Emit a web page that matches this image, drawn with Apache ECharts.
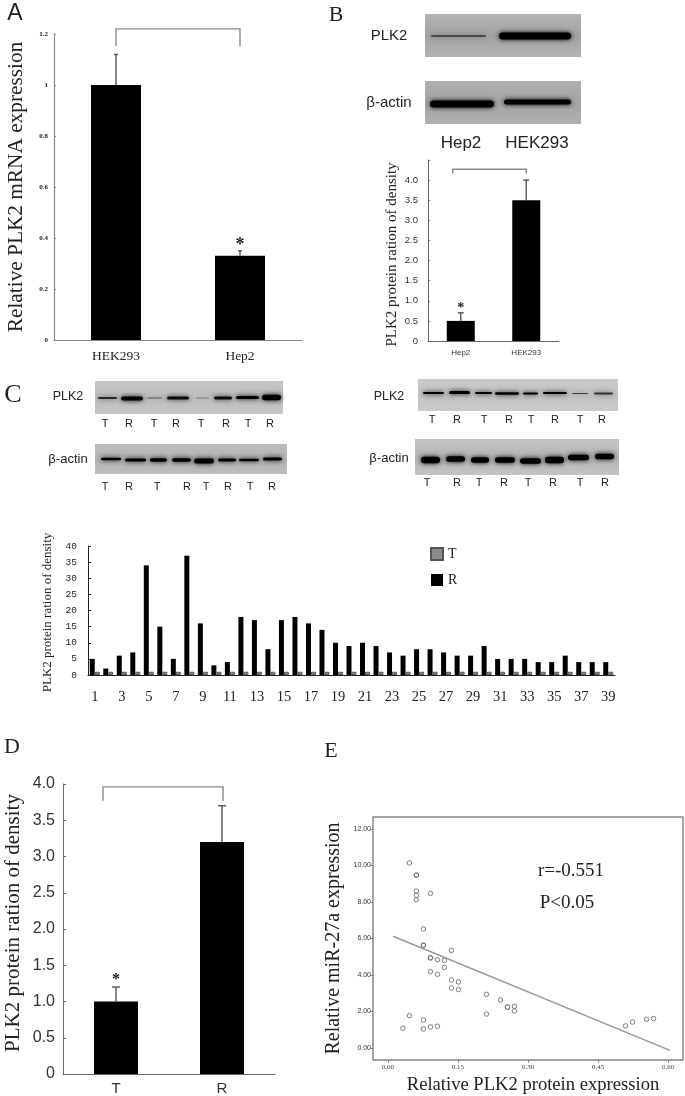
<!DOCTYPE html>
<html>
<head>
<meta charset="utf-8">
<style>html,body{margin:0;padding:0;background:#fff}#c{width:685px;height:1096px}</style>
<script src="https://cdn.jsdelivr.net/npm/echarts@6/dist/echarts.min.js"></script>
</head>
<body>
<div id="c"></div>
<script>
// ---------- data ----------
const catsA = ['HEK293', 'Hep2'];
const valsA = [1, 0.33];
const errA = [1.12, 0.35];

const catsB = ['Hep2', 'HEK293'];
const valsB = [0.5, 3.5];
const errB = [0.7, 4.0];

const catsC = ['1','2','3','4','5','6','7','8','9','10','11','12','13','14','15','16','17','18','19','20','21','22','23','24','25','26','27','28','29','30','31','32','33','34','35','36','37','38','39'];
const valsCR = [5,2,6,7,34,15,5,37,16,3,4,18,17,8,17,18,16,14,10,9,10,9,7,6,8,8,7,6,6,9,5,5,5,4,4,6,4,4,4];
const valsCT = [1,1,1,1,1,1,1,1,1,1,1,1,1,1,1,1,1,1,1,1,1,1,1,1,1,1,1,1,1,1,1,1,1,1,1,1,1,1,1];

const catsD = ['T', 'R'];
const valsD = [1.0, 3.2];
const errD = [1.2, 3.7];

const scatterE = [[.032,1.08],[.046,1.77],[.076,1.53],[.076,1.04],[.091,1.15],[.106,1.19],[.046,10.14],[.061,9.48],[.061,9.46],
  [.061,8.6],[.061,8.37],[.061,8.13],[.091,8.47],[.076,6.52],[.076,5.64],[.076,5.62],[.091,4.95],[.091,4.93],[.106,4.84],[.121,4.8],
  [.121,4.42],[.091,4.18],[.106,4.04],[.136,5.35],[.136,3.73],[.151,3.62],[.136,3.29],[.151,3.2],[.211,2.94],[.211,1.86],[.241,2.63],
  [.256,2.23],[.256,2.24],[.271,2.28],[.271,2.03],[.509,1.21],[.524,1.42],[.554,1.57],[.569,1.61]];
const fitE = [[.011,6.12],[.604,-.13]];
const ticksEx = [0, .15, .30, .45, .60];
const ticksEy = [0, 2, 4, 6, 8, 10, 12];

// ---------- blot artwork (image panels, not chart data) ----------
const blots = [
  {x:425,y:14,w:156,h:43,c:['#b4b4b4','#a2a2a2'],bands:[[431,486,36,1.4,.65],[499,571,36,7,1]]},
  {x:425,y:81,w:156,h:43,c:['#b0b0b0','#a4a4a4'],bands:[[430,494,104,7,1],[504,571,102,5,1]]},
  {x:95,y:381,w:188,h:33,c:['#c6c6c6','#bdbdbd'],bands:[[98,117,398,2,.75],[121,143,398.5,4,1],[147,162,398,1.2,.5],[167,189,398,3,.9],[196,209,398,1.2,.35],[214,232,398,3,.9],[236,259,397.5,3,1],[262,281,397.5,5.5,1]]},
  {x:95,y:444,w:192,h:30,c:['#bdbdbd','#b4b4b4'],bands:[[101,121,459,2.5,1],[125,146,460,3,1],[150,167,460,3.5,1],[172,191,460,3.5,1],[194,214,461,5,1],[218,236,460,3,1],[239,259,460,2.5,1],[263,282,459,3,1]]},
  {x:418,y:379,w:200,h:32,c:['#cacaca','#c2c2c2'],bands:[[423,444,393,2,1],[449,470,392.5,3,1],[475,492,393,2,1],[495,519,393.5,2.5,1],[523,538,393.5,2,1],[543,567,393,2,1],[572,588,393.5,1,.65],[594,613,393.5,2,.7]]},
  {x:415,y:439,w:204,h:36,c:['#c4c4c4','#b4b4b4'],bands:[[421,440,460,6.5,1],[446,465,459,5.5,1],[471,489,460,5.5,1],[495,515,460,5.5,1],[520,541,461,5.5,1],[545,564,460,6.5,1],[568,589,457.5,5.5,1],[595,614,456.5,5.5,1]]}
];
const rowsTR = [
  {y:424,s:'TRTRTRTR',x:[105,129,154,176,201,226,248,270]},
  {y:487,s:'TRTRTRTR',x:[105,129,157,187,206,228,250,272]},
  {y:420,s:'TRTRTRTR',x:[432,457,484,509,531,555,580,602]},
  {y:483,s:'TRTRTRTR',x:[427,457,479,504,528,553,580,605]}
];

// ---------- fonts & helpers ----------
const SERIF = '"Liberation Serif", serif';
const SANS = '"Liberation Sans", sans-serif';
const AXIS = '#8a8a8a';
const DARK = '#333';

function text(x, y, t, size, family, extra) {
  return Object.assign({type:'text', silent:true, z:20, x:x, y:y,
    style:{text:t, fill:'#222', font:size+'px '+family, textAlign:'center', textVerticalAlign:'middle'}}, extra||{});
}
const graphics = [];
blots.forEach(b => {
  graphics.push({type:'rect', silent:true, z:5, shape:{x:b.x,y:b.y,width:b.w,height:b.h},
    style:{fill:{type:'linear',x:0,y:0,x2:0,y2:1,colorStops:[{offset:0,color:b.c[0]},{offset:.5,color:b.c[1]},{offset:1,color:b.c[0]}]}}});
  b.bands.forEach(r => {
    const col = 'rgba(0,0,0,'+r[4]+')';
    graphics.push({type:'rect', silent:true, z:6, shape:{x:r[0],y:r[2]-r[3]/2,width:r[1]-r[0],height:r[3],r:r[3]/2},
      style:{fill:col, shadowBlur:5, shadowColor:col}});
  });
});
rowsTR.forEach(row => row.x.forEach((x,i) => graphics.push(text(x,row.y,row.s[i],11,SANS,{}))));
graphics.push(
  text(15,14,'A',23,SANS), text(336,15,'B',22,SERIF), text(13,395,'C',26,SERIF),
  text(12,747,'D',22,SERIF), text(331,751,'E',22,SERIF),
  text(389,36,'PLK2',15,SANS), text(389,103,'β-actin',15,SANS),
  text(461,143,'Hep2',17,SANS), text(537,143,'HEK293',17,SANS),
  text(68,397,'PLK2',12.5,SANS), text(68,459,'β-actin',13,SANS),
  text(389,397,'PLK2',12.5,SANS), text(389,458,'β-actin',13,SANS),
  text(571,871,'r=-0.551',19,SERIF), text(567,903,'P<0.05',19,SERIF)
);

// custom series
function errorSeries(g, vals, errs, cap) {
  return {type:'custom', xAxisIndex:g, yAxisIndex:g, z:6, silent:true,
    data: vals.map((v,i)=>[i,v,errs[i]]),
    encode:{x:0,y:[1,2]},
    renderItem:(p,api)=>{
      const a=api.coord([api.value(0),api.value(1)]), b=api.coord([api.value(0),api.value(2)]);
      const st={stroke:'#555',lineWidth:1.4,fill:null};
      return {type:'group',children:[
        {type:'line',shape:{x1:a[0],y1:a[1],x2:b[0],y2:b[1]},style:st},
        {type:'line',shape:{x1:b[0]-cap,y1:b[1],x2:b[0]+cap,y2:b[1]},style:st}
      ]};
    }};
}
function bracketSeries(g, low, top, dxL, dxR) {
  return {type:'custom', xAxisIndex:g, yAxisIndex:g, z:6, silent:true,
    data:[[0,1,low,top]],
    encode:{x:[0,1],y:[2,3]},
    renderItem:(p,api)=>{
      const a=api.coord([api.value(0),api.value(2)]), b=api.coord([api.value(1),api.value(3)]);
      const xl=a[0]+dxL, xr=b[0]+dxR;
      return {type:'polyline',shape:{points:[[xl,a[1]],[xl,b[1]],[xr,b[1]],[xr,a[1]]]},
        style:{stroke:'#8a8a8a',lineWidth:1.4,fill:null}};
    }};
}
function starSeries(g, idx, y, size) {
  return {type:'custom', xAxisIndex:g, yAxisIndex:g, z:7, silent:true,
    data:[[idx,y]],
    encode:{x:0,y:1},
    renderItem:(p,api)=>{
      const a=api.coord([api.value(0),api.value(1)]);
      return {type:'text',style:{text:'*',x:a[0],y:a[1],fill:'#222',font:'bold '+size+'px '+SERIF,textAlign:'center',textVerticalAlign:'middle'}};
    }};
}
function barSeries(g, vals, w) {
  return {type:'bar',xAxisIndex:g,yAxisIndex:g,data:vals,barWidth:w,silent:true,itemStyle:{color:'#000'}};
}

const fmt1 = v => v===0 ? '0' : v.toFixed(1);
const fmtA = v => (v===0||v===1) ? String(v) : v.toFixed(1);
const tickLine = c => ({lineStyle:{color:c,width:1}});

const option = {
  animation:false,
  backgroundColor:'#fff',
  graphic:{elements:graphics},
  grid:[
    {left:54,top:34,width:248,height:306},
    {left:428,top:160,width:131,height:181},
    {left:88,top:546,width:527,height:129},
    {left:63,top:784,width:212,height:290},
    {left:373,top:817,width:310,height:243,show:true,borderColor:'#888',borderWidth:1.5,backgroundColor:'transparent'}
  ],
  xAxis:[
    {gridIndex:0,type:'category',data:catsA,axisLine:{lineStyle:{color:AXIS,width:1.2}},axisTick:Object.assign({inside:true,length:2},tickLine(AXIS)),
      axisLabel:{color:'#222',fontFamily:SERIF,fontSize:13.5,margin:9,interval:0}},
    {gridIndex:1,type:'category',data:catsB,axisLine:{lineStyle:{color:'#666',width:1}},axisTick:Object.assign({inside:true,length:2},tickLine('#666')),
      axisLabel:{color:DARK,fontFamily:SANS,fontSize:8,margin:8,interval:0}},
    {gridIndex:2,type:'category',data:catsC,axisLine:{lineStyle:{color:'#222',width:1.2}},axisTick:Object.assign({inside:true,length:2},tickLine('#222')),
      axisLabel:{color:'#222',fontFamily:SERIF,fontSize:14.5,margin:15,interval:1}},
    {gridIndex:3,type:'category',data:catsD,axisLine:{lineStyle:{color:'#666',width:1}},axisTick:Object.assign({inside:true,length:5},tickLine('#666')),
      axisLabel:{color:DARK,fontFamily:SANS,fontSize:15,margin:7,interval:0}},
    {gridIndex:4,type:'value',min:-0.032,max:0.632,splitLine:{show:false},axisLine:{show:false,onZero:false},
      axisTick:{show:true,length:2.5,lineStyle:{color:'#777'},customValues:ticksEx},
      axisLabel:{color:'#444',fontFamily:SERIF,fontSize:7,margin:4,customValues:ticksEx,formatter:v=>v.toFixed(2)},
      name:'Relative PLK2 protein expression',nameLocation:'middle',nameGap:16,
      nameTextStyle:{color:'#222',fontFamily:SERIF,fontSize:18.6,padding:[0,0,0,10]}}
  ],
  yAxis:[
    {gridIndex:0,type:'value',min:0,max:1.2,interval:.2,splitLine:{show:false},axisLine:{show:true,lineStyle:{color:AXIS,width:1.2}},
      axisTick:Object.assign({show:true,inside:true,length:2},tickLine(AXIS)),
      axisLabel:{color:'#222',fontFamily:SERIF,fontSize:7,fontWeight:'bold',margin:6,formatter:fmtA},
      name:'Relative PLK2 mRNA expression',nameLocation:'middle',nameGap:27,nameTextStyle:{color:'#222',fontFamily:SERIF,fontSize:21.3}},
    {gridIndex:1,type:'value',min:0,max:4.5,interval:.5,splitLine:{show:false},axisLine:{show:true,lineStyle:{color:'#666',width:1}},
      axisTick:Object.assign({show:true,inside:true,length:2},tickLine('#666')),
      axisLabel:{color:DARK,fontFamily:SANS,fontSize:9.5,margin:10,formatter:v=>v>4?'':fmt1(v)},
      name:'PLK2 protein ration of density',nameLocation:'middle',nameGap:28,nameTextStyle:{color:'#222',fontFamily:SERIF,fontSize:15,padding:[0,8,0,0]}},
    {gridIndex:2,type:'value',min:0,max:40,interval:5,splitLine:{show:false},axisLine:{show:true,lineStyle:{color:'#222',width:1}},
      axisTick:Object.assign({show:true,inside:true,length:3},tickLine('#222')),
      axisLabel:{color:'#222',fontFamily:'"Liberation Mono", monospace',fontSize:9.5,margin:11},
      name:'PLK2 protein ration of density',nameLocation:'middle',nameGap:34,nameTextStyle:{color:'#222',fontFamily:SERIF,fontSize:13,padding:[0,4,0,0]}},
    {gridIndex:3,type:'value',min:0,max:4,interval:.5,splitLine:{show:false},axisLine:{show:true,lineStyle:{color:'#666',width:1}},
      axisTick:Object.assign({show:true,inside:true,length:3},tickLine('#666')),
      axisLabel:{color:DARK,fontFamily:SANS,fontSize:16,margin:8,formatter:fmt1},
      name:'PLK2 protein ration of density',nameLocation:'middle',nameGap:39,nameTextStyle:{color:'#222',fontFamily:SERIF,fontSize:21,padding:[0,0,0,12]}},
    {gridIndex:4,type:'value',min:-0.66,max:12.66,splitLine:{show:false},axisLine:{show:false,onZero:false},
      axisTick:{show:true,length:2.5,lineStyle:{color:'#777'},customValues:ticksEy},
      axisLabel:{color:'#333',fontFamily:SANS,fontSize:7,margin:2,customValues:ticksEy,formatter:v=>v.toFixed(2)},
      name:'Relative miR-27a expression',nameLocation:'middle',nameGap:29,nameTextStyle:{color:'#222',fontFamily:SERIF,fontSize:20,padding:[0,0,0,0]}}
  ],
  legend:{show:true,orient:'vertical',left:425,top:542,itemWidth:12,itemHeight:12,itemGap:12,icon:'rect',
    data:['T','R'],textStyle:{color:'#222',fontFamily:SERIF,fontSize:14},selectedMode:false},
  series:[
    barSeries(0,valsA,50),
    errorSeries(0,valsA,errA,2),
    bracketSeries(0,1.153,1.22,0,0),
    starSeries(0,1,0.37,18),

    barSeries(1,valsB,28),
    errorSeries(1,valsB,errB,3),
    bracketSeries(1,4.17,4.27,-8,0),
    starSeries(1,0,0.8,14),

    {name:'R',type:'bar',xAxisIndex:2,yAxisIndex:2,data:valsCR,barWidth:5,barGap:'0%',silent:true,itemStyle:{color:'#000'}},
    {name:'T',type:'bar',xAxisIndex:2,yAxisIndex:2,data:valsCT,barWidth:5,barGap:'0%',silent:true,itemStyle:{color:'#8c8c8c',borderColor:'#555',borderWidth:1}},

    barSeries(3,valsD,44),
    errorSeries(3,valsD,errD,4),
    bracketSeries(3,3.77,3.96,-13,1),
    starSeries(3,0,1.3,16),

    {type:'scatter',xAxisIndex:4,yAxisIndex:4,data:scatterE,symbol:'circle',symbolSize:4.5,silent:true,
      itemStyle:{color:'rgba(255,255,255,0)',borderColor:'#6f6f6f',borderWidth:.9,opacity:1}},
    {type:'line',xAxisIndex:4,yAxisIndex:4,data:fitE,symbol:'none',silent:true,lineStyle:{color:'#999',width:1.5}}
  ]
};
const chart = echarts.init(document.getElementById('c'), null, {renderer:'canvas'});
chart.setOption(option);
</script>
</body>
</html>
